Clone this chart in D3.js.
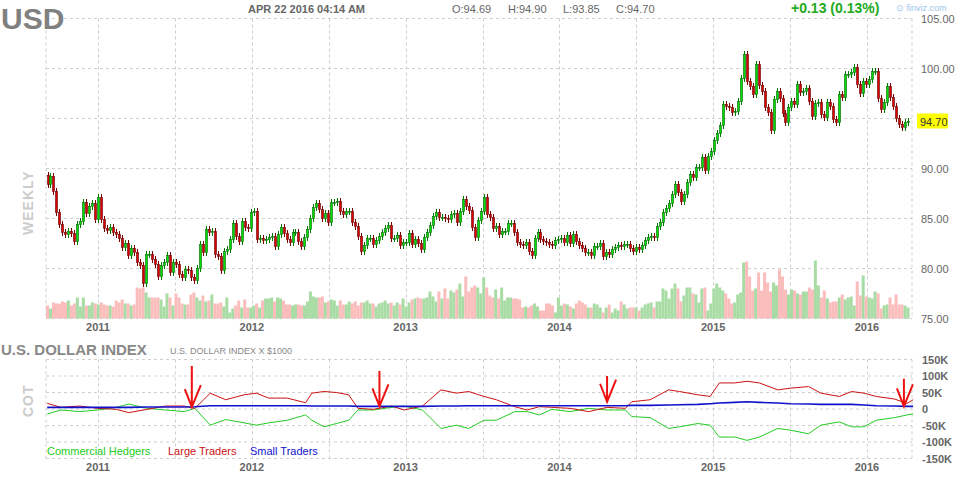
<!DOCTYPE html>
<html><head><meta charset="utf-8">
<script src="https://cdn.jsdelivr.net/npm/d3@7"></script>
<style>body{margin:0;background:#fff}svg{font-family:"Liberation Sans",Arial,sans-serif}</style>
</head><body><svg id="c" width="955" height="482"></svg>
<script>
const closes = [
88.4,89.2,87.7,85.6,84.4,83.6,83.4,83.7,83.5,82.7,84.4,84.7,86.6,85.5,86.2,86.5,84.9,87.1,84.9,84.0,
83.8,84.1,83.6,83.4,83.0,82.1,82.5,81.3,82.0,81.6,80.6,80.3,78.5,81.4,81.4,80.9,80.4,79.2,80.3,80.6,
81.3,79.6,80.6,80.4,79.4,79.1,79.9,79.8,79.1,78.8,80.0,82.4,81.6,83.9,83.6,83.7,81.4,81.2,79.8,81.7,
81.9,82.9,84.5,83.2,82.7,84.7,84.1,84.0,85.6,85.7,82.9,83.0,
82.8,82.9,83.1,83.2,82.2,83.4,84.1,83.5,82.9,82.6,83.6,83.6,82.7,82.2,83.1,83.9,85.0,86.1,86.5,85.9,
85.0,85.5,84.6,86.6,86.6,86.7,85.7,85.4,85.7,85.7,84.6,84.2,83.2,81.7,82.3,83.0,83.0,82.4,82.8,83.2,
83.6,84.0,84.3,83.0,83.0,83.3,82.3,82.6,82.6,83.5,82.4,82.9,82.5,81.9,83.1,83.6,84.3,85.2,85.6,85.1,
85.1,85.0,84.9,85.4,85.5,84.6,85.7,86.9,86.2,85.8,84.1,83.1,84.8,85.7,
87.1,85.4,85.1,84.0,84.2,83.4,83.7,83.7,84.5,84.5,83.6,82.6,82.4,82.3,82.6,81.7,81.3,83.0,83.6,82.9,
82.7,82.6,82.4,82.3,82.8,82.9,83.0,82.6,83.3,82.5,83.4,82.7,82.3,82.0,81.6,81.6,81.3,82.2,82.2,82.5,
81.2,81.6,81.4,81.9,82.1,82.3,82.2,82.4,82.4,82.0,81.7,82.1,81.9,82.3,82.8,83.1,83.2,83.1,84.2,84.6,
85.6,86.0,86.5,87.4,88.4,87.6,86.7,87.4,88.6,
89.4,89.1,90.1,90.1,91.1,89.8,91.2,91.7,92.8,93.5,94.3,96.4,96.2,96.1,95.6,95.7,96.7,99.0,101.4,98.7,
98.2,97.4,100.4,98.3,97.7,96.1,95.6,93.8,96.9,97.7,97.0,95.5,94.6,96.1,96.7,96.4,98.4,97.6,97.7,98.0,
96.7,95.2,96.5,96.6,95.4,95.1,96.6,96.2,94.9,94.6,97.4,97.1,99.4,99.4,99.6,100.1,98.4,97.5,98.7,98.4,
98.9,99.7,99.7,97.0,95.9,96.6,98.2,97.1,96.2,95.0,94.4,94.1,94.6,94.7];
const firstOpen = 89.3;
const volumes = [
13,10,16,15,15,17,16,18,13,15,21,12,21,13,13,16,15,14,16,14,13,13,12,18,16,19,15,15,13,14,
31,30,31,26,21,21,21,21,19,12,25,21,13,25,21,15,14,14,24,26,21,18,23,17,18,24,15,15,16,12,
21,6,10,13,18,11,19,11,11,13,15,11,
18,20,20,21,17,21,20,18,14,14,13,14,14,13,13,17,27,22,21,21,22,16,17,19,18,13,18,14,14,17,
15,17,13,16,16,18,15,15,12,15,16,18,15,16,13,16,14,20,12,16,19,20,21,20,20,21,27,22,17,27,
20,30,20,28,26,29,35,22,42,27,31,33,31,25,
41,31,23,21,29,20,31,18,21,21,20,20,19,11,12,11,13,15,12,8,8,15,15,13,6,21,13,15,14,12,
10,15,18,16,14,11,11,15,14,11,6,11,14,6,10,8,17,14,10,11,11,11,8,11,14,15,16,11,17,17,
30,28,20,30,35,30,17,23,31,
31,25,24,16,30,31,8,15,30,35,31,28,25,20,15,16,24,26,56,57,42,28,30,46,28,46,36,27,36,33,
49,42,29,24,29,28,25,24,27,27,31,29,58,33,21,28,20,16,17,17,21,24,19,21,22,13,37,23,43,22,
21,20,27,25,10,13,14,21,14,24,14,14,13,11];
const priceTicks = [75,80,85,90,95,100,105];
const yearTicks = [2011,2012,2013,2014,2015,2016];
const cotYears = [2010.67,2010.76,2010.88,2011.00,2011.12,2011.20,2011.32,2011.44,2011.56,2011.63,2011.73,2011.83,2011.95,2012.03,2012.11,2012.23,2012.35,2012.39,2012.47,2012.55,2012.63,2012.69,2012.79,2012.91,2012.99,2013.11,2013.23,2013.33,2013.41,2013.51,2013.59,2013.71,2013.79,2013.87,2013.95,2014.07,2014.19,2014.31,2014.43,2014.47,2014.59,2014.71,2014.78,2014.90,2014.98,2015.04,2015.14,2015.22,2015.30,2015.42,2015.50,2015.62,2015.70,2015.82,2015.90,2015.98,2016.06,2016.18,2016.26,2016.30];
const commercial = [-15,-3,-8,-3,5,15,2,-3,-8,2,-49,-32,-42,-49,-42,-34,-18,-34,-54,-44,-34,-3,-3,5,9,-3,-59,-49,-59,-34,-34,-8,-8,-18,-1,-8,2,-3,-3,-23,-26,-59,-54,-44,-49,-85,-85,-95,-85,-59,-64,-75,-49,-39,-54,-54,-34,-26,-18,-15];
const large = [17,5,9,2,-1,-11,-1,9,9,2,48,28,43,48,33,33,19,48,53,50,43,2,-1,9,-3,9,58,48,53,38,28,7,-3,7,5,2,-8,5,2,22,28,58,53,43,38,79,79,84,79,58,63,68,48,38,53,48,38,30,17,28];
const small = [5,5,5,5,5,5,6,6,6,7,10,10,10,10,10,10,10,9,9,9,9,8,8,8,8,8,9,9,10,10,10,10,10,10,10,10,10,10,10,11,11,12,13,14,16,18,20,22,20,18,16,15,14,14,14,12,10,9,8,8];
const cotTicks = [-150,-100,-50,0,50,100,150];
const arrows = [[2011.61,130,6],[2012.83,115,8],[2014.31,100,22],[2016.24,92,8]];

const svg = d3.select("#c");
const L=46,R=912;
const xi = d3.scaleLinear().domain([0,closes.length-1]).range([47.5,908]);
const xy = d3.scaleLinear().domain([2011,2016]).range([98,867]);
const yP = d3.scaleLinear().domain([75,105]).range([318.5,18.5]);
const yV = d3.scaleLinear().domain([0,60]).range([318.5,258.5]);
const yC = d3.scaleLinear().domain([-150,150]).range([458.5,359.5]);
const grid = "#cfcfcf";
const last = closes[closes.length-1];

function vgrid(y0,y1){
  const xs=[L];
  for(let y=2010.5;y<=2016.5;y+=0.5){const x=Math.round(xy(y))+0.5;if(x>L&&x<R)xs.push(x);}
  xs.push(R);
  svg.append("g").selectAll("line").data(xs).join("line").attr("x1",d=>d).attr("x2",d=>d).attr("y1",y0).attr("y2",y1)
   .attr("stroke",grid).attr("stroke-dasharray","3,3");
}
vgrid(18.5,318.5); vgrid(359.5,458.5);
svg.append("g").selectAll("line").data(priceTicks).join("line").attr("x1",L).attr("x2",R)
 .attr("y1",d=>yP(d)).attr("y2",d=>yP(d)).attr("stroke",grid).attr("stroke-dasharray","3,3");
svg.append("g").selectAll("line").data(cotTicks).join("line").attr("x1",L).attr("x2",R)
 .attr("y1",d=>yC(d)).attr("y2",d=>yC(d)).attr("stroke",grid).attr("stroke-dasharray","3,3");

const data = closes.map((c,i)=>{const o=i?closes[i-1]:firstOpen;return {i,o,c,v:volumes[i]||12,up:c>=o};});
svg.append("g").selectAll("rect").data(data).join("rect")
 .attr("x",d=>xi(d.i)-1.5).attr("width",3).attr("y",d=>yV(d.v)).attr("height",d=>yV(0)-yV(d.v))
 .attr("fill",d=>d.up?"#a8dca4":"#fbbcbc");
const cg = svg.append("g");
cg.selectAll("line").data(data).join("line").attr("x1",d=>Math.round(xi(d.i))+0.5).attr("x2",d=>Math.round(xi(d.i))+0.5)
 .attr("y1",d=>yP(Math.max(d.o,d.c)+0.35)).attr("y2",d=>yP(Math.min(d.o,d.c)-0.35))
 .attr("stroke",d=>d.up?"#007a00":"#7a0000");
cg.selectAll("rect").data(data).join("rect").attr("x",d=>Math.round(xi(d.i))-0.5).attr("width",2)
 .attr("y",d=>yP(Math.max(d.o,d.c))).attr("height",d=>Math.max(1,Math.abs(yP(d.o)-yP(d.c))))
 .attr("fill",d=>d.up?"#00dd00":"#dd0000").attr("stroke",d=>d.up?"#006600":"#660000").attr("stroke-width",0.6);

// price axis (tick hidden under the last-price marker, as in the original)
svg.append("g").selectAll("text").data(priceTicks.filter(d=>Math.abs(yP(d)-yP(last))>14)).join("text").attr("x",921).attr("y",d=>yP(d)+4)
 .text(d=>d.toFixed(2)).attr("font-size",11).attr("fill","#666");
svg.append("rect").attr("x",917).attr("y",yP(last)-8).attr("width",31).attr("height",15).attr("fill","#ffff00");
svg.append("text").attr("x",920).attr("y",yP(last)+4).text(last.toFixed(2)).attr("font-size",11).attr("fill","#333");

[331,471].forEach(yy=>svg.append("g").selectAll("text").data(yearTicks).join("text")
 .attr("x",d=>xy(d)).attr("y",yy).attr("text-anchor","middle").text(d=>d).attr("font-size",11).attr("font-weight","bold").attr("fill","#666"));

svg.append("text").attr("x",1).attr("y",29).text("USD").attr("font-size",30).attr("font-weight","bold").attr("fill","#808080");
svg.append("text").attr("x",248).attr("y",13).text("APR 22 2016 04:14 AM").attr("font-size",11).attr("font-weight","bold").attr("fill","#666");
[["O:94.69",452],["H:94.90",508],["L:93.85",563],["C:94.70",616]].forEach(([t,x])=>
 svg.append("text").attr("x",x).attr("y",13).text(t).attr("font-size",11).attr("fill","#666"));
svg.append("text").attr("x",791).attr("y",13).text("+0.13 (0.13%)").attr("font-size",14).attr("font-weight","bold").attr("fill","#22aa22");
svg.append("text").attr("x",896).attr("y",11).text("⊙ finviz.com").attr("font-size",9).attr("fill","#9cc3ea");
svg.append("text").attr("transform","translate(33,235) rotate(-90)").text("WEEKLY").attr("font-size",14).attr("font-weight","bold").attr("fill","#ccc").attr("letter-spacing",1);

svg.append("text").attr("x",1).attr("y",355).text("U.S. DOLLAR INDEX").attr("font-size",15).attr("font-weight","bold").attr("fill","#888");
svg.append("text").attr("x",170).attr("y",354).text("U.S. DOLLAR INDEX X $1000").attr("font-size",9).attr("fill","#888");
svg.append("text").attr("transform","translate(33,417) rotate(-90)").text("COT").attr("font-size",14).attr("font-weight","bold").attr("fill","#ccc").attr("letter-spacing",1);
svg.append("g").selectAll("text").data(cotTicks).join("text").attr("x",922).attr("y",d=>yC(d)+4)
 .text(d=>d===0?"0":d+"K").attr("font-size",11).attr("font-weight","bold").attr("fill","#666");
const line = arr => d3.line().x((d,i)=>xy(cotYears[i])).y(d=>yC(d))(arr);
svg.append("path").attr("d",line(commercial)).attr("fill","none").attr("stroke","#22cc22").attr("stroke-width",1);
svg.append("path").attr("d",line(large)).attr("fill","none").attr("stroke","#cc1111").attr("stroke-width",1);
svg.append("path").attr("d",line(small)).attr("fill","none").attr("stroke","#1111cc").attr("stroke-width",1.6);
[["Commercial Hedgers","#22cc22",47],["Large Traders","#cc1111",168],["Small Traders","#1111cc",250]].forEach(([t,c,x])=>
 svg.append("text").attr("x",x).attr("y",455).text(t).attr("font-size",11).attr("fill",c));

arrows.forEach(([yr,top,bot])=>{
  const x=xy(yr), y0=yC(top), y1=yC(bot);
  svg.append("path").attr("d",`M${x},${y0} L${x},${y1} M${x-7},${y1-18} L${x},${y1} L${x+9},${y1-22}`)
   .attr("fill","none").attr("stroke","#ee1111").attr("stroke-width",2);
});
</script></body></html>
